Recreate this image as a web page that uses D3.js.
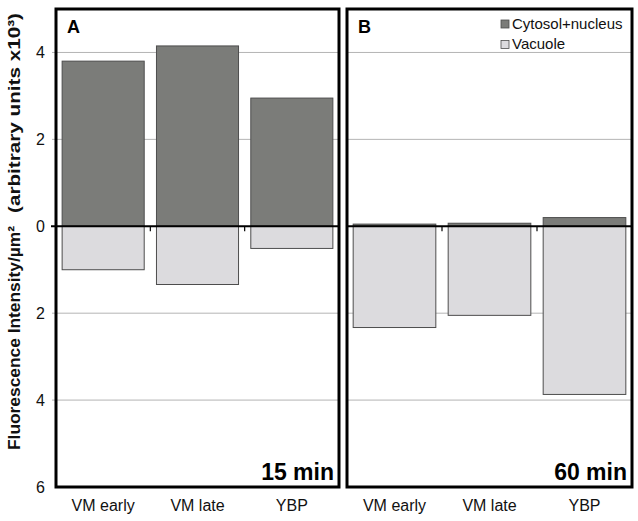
<!DOCTYPE html>
<html>
<head>
<meta charset="utf-8">
<script src="https://cdn.jsdelivr.net/npm/d3@7"></script>
<style>
  body { margin: 0; background: #fff; }
  svg { font-family: 'Liberation Sans', Arial, sans-serif; }
</style>
</head>
<body>
<div id="chart-area"></div>
<script>
// data (units x10^3, vacuole drawn below zero)
const categories = ['VM early', 'VM late', 'YBP'];
const panelLetters = ['A', 'B'];
const timeLabels = ['15 min', '60 min'];
const cytosol15 = [3.8, 4.15, 2.95];
const vacuole15 = [1.0, 1.34, 0.51];
const cytosol60 = [0.05, 0.07, 0.2];
const vacuole60 = [2.33, 2.05, 3.87];
const yTicks = [4, 2, 0, -2, -4, -6];
const legendLabels = ['Cytosol+nucleus', 'Vacuole'];
const yTitle = ['Fluorescence Intensity/µm²', '(arbitrary units x10³)'];

let width = 638;
let height = 521;
let darkColor = '#7b7c79';
let lightColor = '#dcdbde';
let barStroke = '#4d4d4d';
let gridColor = '#b4b4b4';
let font = "'Liberation Sans', Arial, sans-serif";

let panels = [
  { letter: panelLetters[0], time: timeLabels[0], cyt: cytosol15, vac: vacuole15, x0: 56, x1: 339 },
  { letter: panelLetters[1], time: timeLabels[1], cyt: cytosol60, vac: vacuole60, x0: 347, x1: 632 },
];

let yScale = d3.scaleLinear().domain([5, -6]).range([9, 487]);

let chart = d3
  .select('#chart-area')
  .append('svg')
  .attr('width', width)
  .attr('height', height);

panels.forEach((p, pi) => {
  let xScale = d3
    .scaleBand()
    .domain(categories)
    .range([p.x0, p.x1])
    .paddingInner(0.13)
    .paddingOuter(0.065);

  let g = chart.append('g').attr('class', 'panel');

  //gridlines
  g.append('g')
    .selectAll('line')
    .data(yTicks.filter((d) => d !== 0 && d !== -6))
    .enter()
    .append('line')
    .attr('x1', p.x0 - (pi === 0 ? 4 : 0))
    .attr('x2', p.x1)
    .attr('y1', (d) => yScale(d))
    .attr('y2', (d) => yScale(d))
    .attr('stroke', gridColor)
    .attr('stroke-width', 1);

  //bars
  g.append('g')
    .selectAll('rect')
    .data(categories)
    .enter()
    .append('rect')
    .attr('x', (d) => xScale(d))
    .attr('width', xScale.bandwidth())
    .attr('y', (d, i) => yScale(p.cyt[i]))
    .attr('height', (d, i) => yScale(0) - yScale(p.cyt[i]))
    .attr('fill', darkColor)
    .attr('stroke', barStroke)
    .attr('stroke-width', 1);

  g.append('g')
    .selectAll('rect')
    .data(categories)
    .enter()
    .append('rect')
    .attr('x', (d) => xScale(d))
    .attr('width', xScale.bandwidth())
    .attr('y', yScale(0))
    .attr('height', (d, i) => yScale(-p.vac[i]) - yScale(0))
    .attr('fill', lightColor)
    .attr('stroke', barStroke)
    .attr('stroke-width', 1);

  //zero line + category ticks
  g.append('line')
    .attr('x1', p.x0 - (pi === 0 ? 5 : 0))
    .attr('x2', p.x1)
    .attr('y1', yScale(0))
    .attr('y2', yScale(0))
    .attr('stroke', '#000')
    .attr('stroke-width', 2);
  g.append('g')
    .selectAll('line')
    .data(categories.slice(1))
    .enter()
    .append('line')
    .attr('x1', (d) => xScale(d) - (xScale.step() - xScale.bandwidth()) / 2)
    .attr('x2', (d) => xScale(d) - (xScale.step() - xScale.bandwidth()) / 2)
    .attr('y1', yScale(0))
    .attr('y2', yScale(0) + 5)
    .attr('stroke', '#000')
    .attr('stroke-width', 1.2);

  //x axis labels
  let xAxis = d3.axisBottom(xScale).tickSize(0).tickPadding(0);
  chart
    .append('g')
    .attr('transform', `translate(0, 500)`)
    .call(xAxis)
    .call((s) => s.select('.domain').remove())
    .selectAll('text')
    .attr('font-size', '16px')
    .attr('font-family', font)
    .attr('fill', '#111')
    .attr('dy', '0.71em');

  //frame
  g.append('rect')
    .attr('x', p.x0)
    .attr('y', yScale(5))
    .attr('width', p.x1 - p.x0)
    .attr('height', yScale(-6) - yScale(5))
    .attr('fill', 'none')
    .attr('stroke', '#000')
    .attr('stroke-width', 3);

  //panel letter and time
  g.append('text')
    .attr('x', p.x0 + 11)
    .attr('y', 33)
    .attr('font-size', '18px')
    .attr('font-weight', 'bold')
    .text(p.letter);
  g.append('text')
    .attr('x', p.x1 - 5)
    .attr('y', 480)
    .attr('text-anchor', 'end')
    .attr('font-size', '23px')
    .attr('font-weight', 'bold')
    .text(p.time);
});

//y axis
let yAxis = d3
  .axisLeft(yScale)
  .tickValues(yTicks)
  .tickSize(0)
  .tickPadding(11)
  .tickFormat((d) => `${Math.abs(d)}`);
chart
  .append('g')
  .attr('transform', `translate(56, 0)`)
  .call(yAxis)
  .call((s) => s.select('.domain').remove())
  .selectAll('text')
  .attr('font-size', '16px')
  .attr('font-family', font)
  .attr('fill', '#111');

//y axis title, two parts stretched to the reference span
chart
  .append('text')
  .attr('text-anchor', 'start')
  .attr('font-size', '17px')
  .attr('font-weight', 'bold')
  .attr('fill', '#111')
  .attr('textLength', 224)
  .attr('lengthAdjust', 'spacingAndGlyphs')
  .attr('transform', `translate(20, 450) rotate(-90)`)
  .text(yTitle[0]);
chart
  .append('text')
  .attr('text-anchor', 'start')
  .attr('font-size', '17px')
  .attr('font-weight', 'bold')
  .attr('fill', '#111')
  .attr('textLength', 200)
  .attr('lengthAdjust', 'spacingAndGlyphs')
  .attr('transform', `translate(20, 213) rotate(-90)`)
  .text(yTitle[1]);

//legend
let legend = chart
  .append('g')
  .attr('transform', `translate(501, 20)`)
  .selectAll('g')
  .data(legendLabels)
  .enter()
  .append('g')
  .attr('transform', (d, i) => `translate(0, ${i * 20.5})`);
legend
  .append('rect')
  .attr('width', 8)
  .attr('height', 8)
  .attr('fill', (d, i) => (i === 0 ? darkColor : lightColor))
  .attr('stroke', barStroke)
  .attr('stroke-width', 0.8);
legend
  .append('text')
  .attr('x', 11)
  .attr('y', 8.5)
  .attr('font-size', '15px')
  .attr('fill', '#111')
  .text((d) => d);
</script>
</body>
</html>
